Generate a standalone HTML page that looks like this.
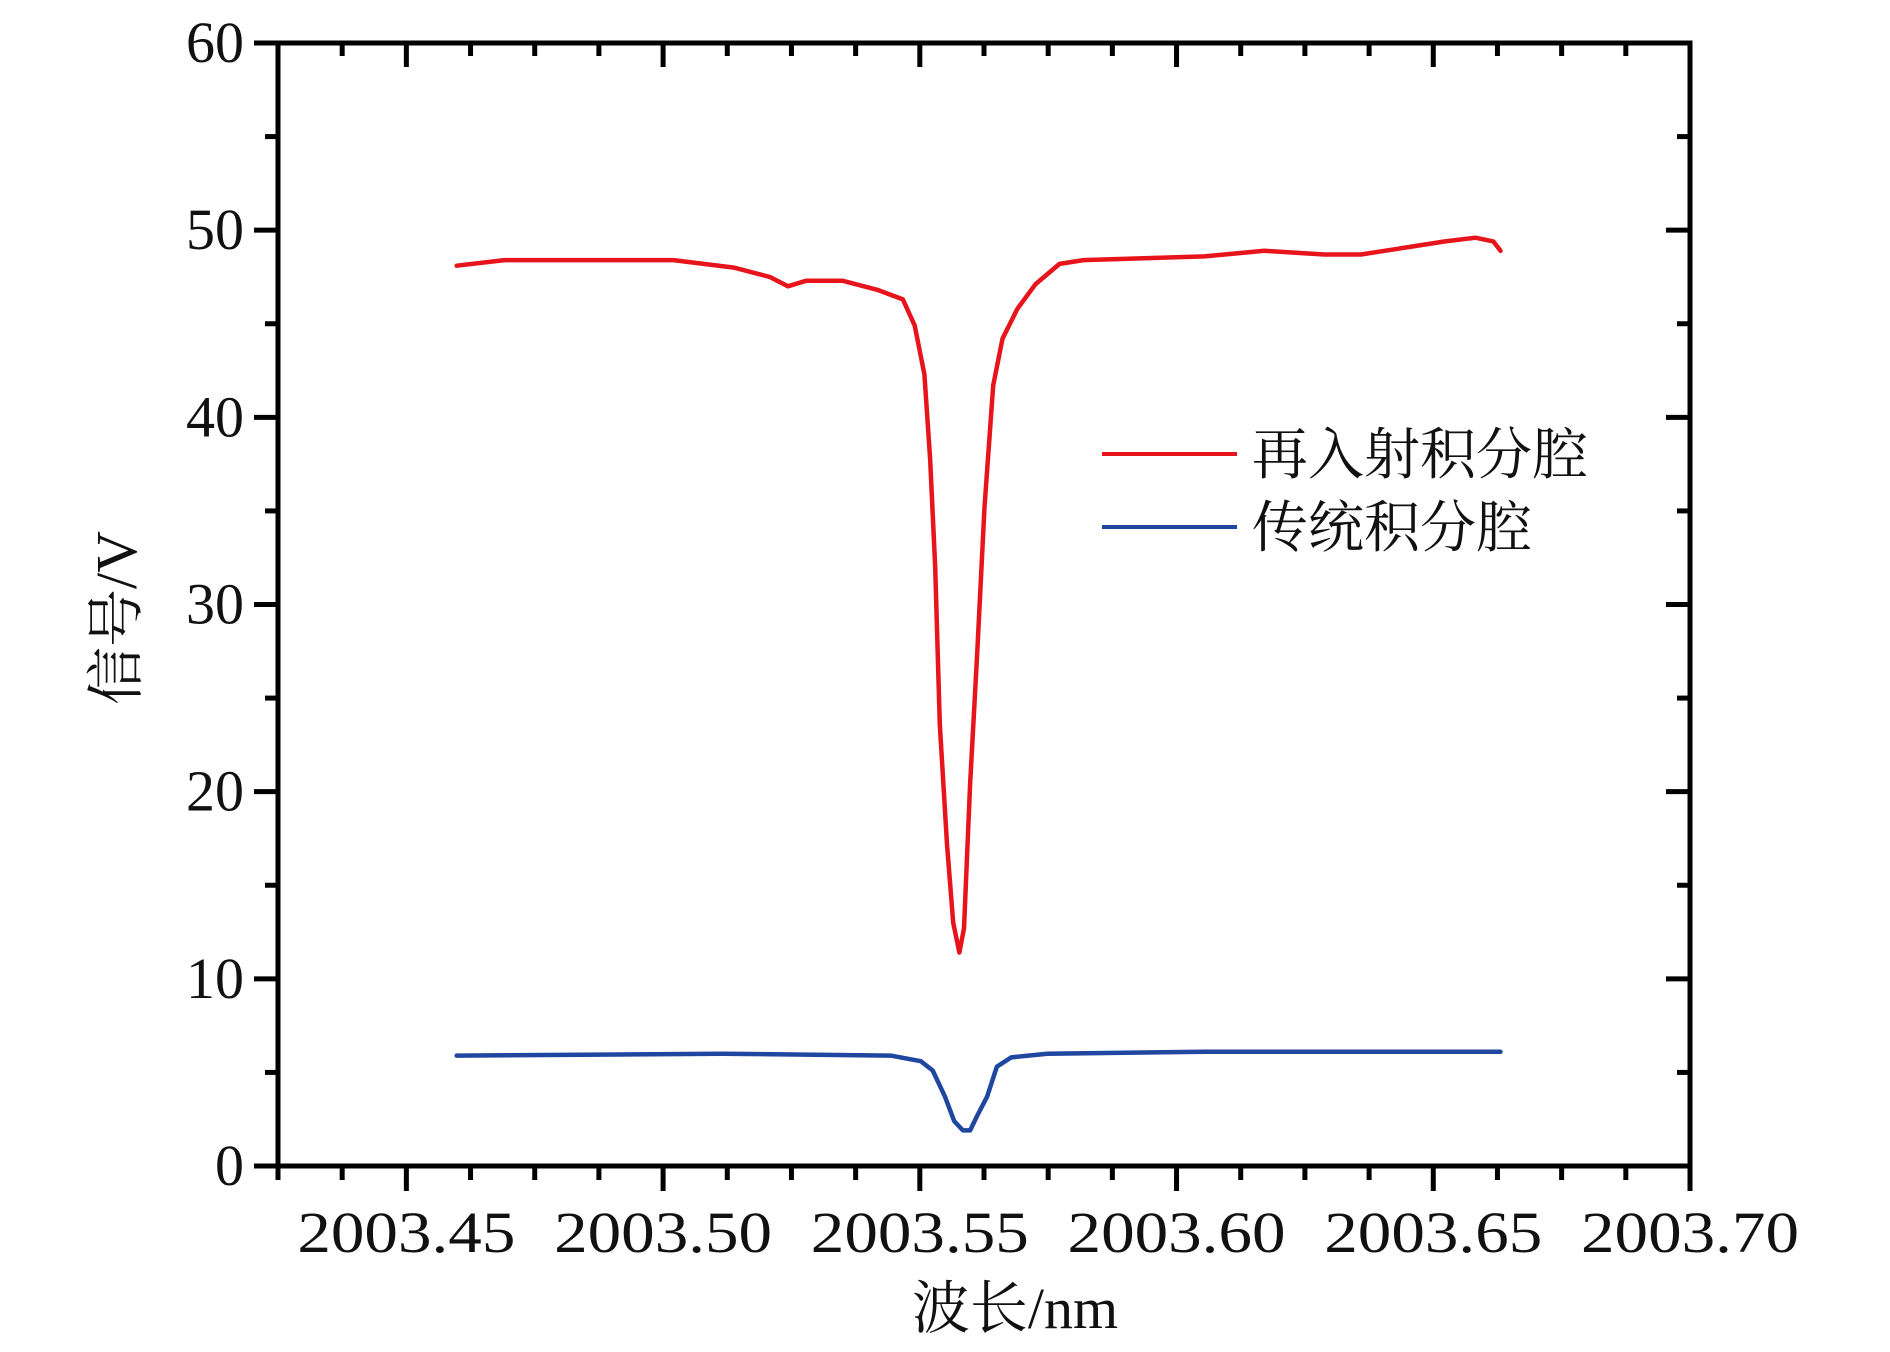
<!DOCTYPE html>
<html><head><meta charset="utf-8">
<style>
html,body{margin:0;padding:0;background:#fff;}
svg text{font-family:"Liberation Serif","Noto Serif CJK SC",serif;fill:#111;}
</style></head>
<body>
<svg id="chart" width="1890" height="1347" viewBox="0 0 1890 1347" xmlns="http://www.w3.org/2000/svg">
<g id="axes"></g>
<g id="series"></g>
<text x="1015" y="1328" font-size="58" text-anchor="middle">波长/nm</text>
<text transform="translate(136,618) rotate(-90)" font-size="58" text-anchor="middle">信号/V</text>
<g>
<line x1="1102" y1="454" x2="1237" y2="454" stroke="#e8141c" stroke-width="4"/>
<text x="1252" y="474" font-size="56">再入射积分腔</text>
<line x1="1102" y1="527" x2="1237" y2="527" stroke="#1f47a0" stroke-width="4"/>
<text x="1252" y="547" font-size="56">传统积分腔</text>
</g>
</svg>
<script>
const xTicks = [2003.45, 2003.50, 2003.55, 2003.60, 2003.65, 2003.70];
const xTickLabels = ["2003.45", "2003.50", "2003.55", "2003.60", "2003.65", "2003.70"];
const yTicks = [0, 10, 20, 30, 40, 50, 60];
const yTickLabels = ["0", "10", "20", "30", "40", "50", "60"];
const redX = [2003.4598,2003.4691,2003.4832,2003.5020,2003.5138,2003.5208,2003.5243,2003.5279,2003.5349,2003.5419,2003.5467,2003.5490,2003.5509,2003.5520,2003.5530,2003.5539,2003.5553,2003.5565,2003.5577,2003.5586,2003.5598,2003.5612,2003.5626,2003.5643,2003.5661,2003.5690,2003.5725,2003.5772,2003.5819,2003.5936,2003.6054,2003.6171,2003.6288,2003.6359,2003.6453,2003.6523,2003.6582,2003.6617,2003.6631];
const redY = [48.1,48.4,48.4,48.4,48.0,47.5,47.0,47.3,47.3,46.8,46.3,44.9,42.3,37.8,32.0,23.6,17.2,13.0,11.4,12.7,20.4,27.5,35.2,41.7,44.2,45.8,47.1,48.2,48.4,48.5,48.6,48.9,48.7,48.7,49.1,49.4,49.6,49.4,48.9];
const blueX = [2003.4598,2003.5114,2003.5443,2003.5502,2003.5525,2003.5549,2003.5567,2003.5584,2003.5598,2003.5612,2003.5631,2003.5650,2003.5678,2003.5748,2003.6054,2003.6631];
const blueY = [5.9,6.0,5.9,5.6,5.1,3.7,2.4,1.9,1.9,2.7,3.7,5.3,5.8,6.0,6.1,6.1];

const L=278,R=1690,T=43,B=1166,X0=2003.425,X1=2003.70,Y0=0,Y1=60;
function sx(v){return L+(v-X0)/(X1-X0)*(R-L);}
function sy(v){return B-(v-Y0)/(Y1-Y0)*(B-T);}
const NS="http://www.w3.org/2000/svg";
const axes=document.getElementById('axes');
function mk(tag,attrs,parent){const e=document.createElementNS(NS,tag);for(const k in attrs)e.setAttribute(k,attrs[k]);parent.appendChild(e);return e;}

const frame=mk('rect',{x:L,y:T,width:R-L,height:B-T,fill:'none',stroke:'#000','stroke-width':5},axes);



for(let i=0;i<=22;i++){
  const v=X0+i*0.0125; const major=Math.abs(((v-2003.45)/0.05)-Math.round((v-2003.45)/0.05))<1e-6;
  const x=sx(v);
  const bt=mk('line',{x1:x,y1:B,x2:x,y2:B+(major?25:14),stroke:'#000','stroke-width':5},axes);
  
  
  const tt=mk('line',{x1:x,y1:T,x2:x,y2:T+(major?24:13),stroke:'#000','stroke-width':5},axes);
  
  
}
xTicks.forEach((v,i)=>{
  const t=mk('text',{x:sx(v),y:1252,'font-size':58,'text-anchor':'middle',textLength:218,lengthAdjust:'spacingAndGlyphs'},axes);
  t.textContent=xTickLabels[i];
  
  
});
for(let i=0;i<=12;i++){
  const v=i*5, major=i%2===0, y=sy(v);
  const lt=mk('line',{x1:L-(major?24:13),y1:y,x2:L,y2:y,stroke:'#000','stroke-width':5},axes);
  
  
  const rt=mk('line',{x1:R-(major?24:13),y1:y,x2:R,y2:y,stroke:'#000','stroke-width':5},axes);
  
  
}
yTicks.forEach((v,i)=>{
  const t=mk('text',{x:244,y:sy(v)+19,'font-size':58,'text-anchor':'end'},axes);
  t.textContent=yTickLabels[i];
  
  
});

const series=document.getElementById('series');
function line(xs,ys,color,name){
  const d=xs.map((x,i)=>(i?'L':'M')+sx(x).toFixed(1)+','+sy(ys[i]).toFixed(1)).join(' ');
  const p=mk('path',{d:d,fill:'none',stroke:color,'stroke-width':4.5,'stroke-linejoin':'round','stroke-linecap':'round'},series);
  
  
}
line(redX,redY,'#e8141c','reentry-cavity-line');
line(blueX,blueY,'#1f47a0','traditional-cavity-line');
</script>
</body></html>
